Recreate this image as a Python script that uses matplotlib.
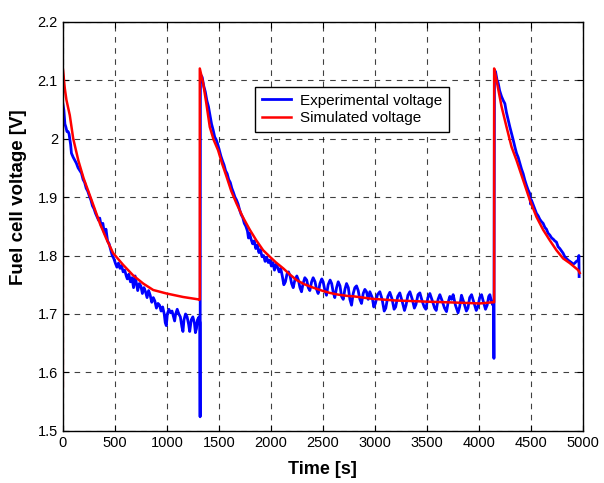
import matplotlib
matplotlib.use("Agg")
import matplotlib.pyplot as plt

# Simulated voltage (red)
sim_time = [0, 0, 19, 35, 67, 100, 150, 200, 276, 356, 420, 484, 580, 676, 773,
            869, 997, 1157, 1301, 1311, 1317,
            1317, 1349, 1380, 1413, 1450, 1493, 1530, 1574, 1620, 1670, 1730, 1798,
            1860, 1926, 1990, 2050, 2119, 2180, 2247, 2320, 2407, 2490, 2567, 2650,
            2728, 2800, 2888, 2970, 3048, 3200, 3369, 3500, 3689, 3850, 4010, 4138,
            4147,
            4147, 4170, 4218, 4266, 4314, 4362, 4426, 4490, 4554, 4618, 4682, 4746,
            4810, 4874, 4955, 4970]
sim_voltage = [1.575, 2.12, 2.086, 2.066, 2.040, 2.000, 1.962, 1.932, 1.895, 1.855,
               1.828, 1.804, 1.784, 1.766, 1.752, 1.741, 1.735, 1.729, 1.725, 1.724,
               1.725,
               2.12, 2.095, 2.060, 2.020, 1.998, 1.980, 1.958, 1.935, 1.910, 1.889,
               1.866, 1.844, 1.826, 1.809, 1.798, 1.788, 1.778, 1.768, 1.758, 1.751,
               1.745, 1.740, 1.736, 1.733, 1.731, 1.730, 1.728, 1.726, 1.725, 1.723,
               1.722, 1.721, 1.720, 1.719, 1.718, 1.720, 1.720,
               2.12, 2.100, 2.055, 2.020, 1.986, 1.963, 1.929, 1.895, 1.866, 1.844,
               1.826, 1.809, 1.795, 1.787, 1.775, 1.770]

# Experimental voltage (blue)
exp_time = [0, 10, 20, 29, 40, 51, 60, 67, 75, 83, 100, 115, 130, 147, 165, 179,
            195, 210, 225, 240, 255, 270, 285, 300, 315, 330, 345, 355, 370, 385,
            400, 415, 430, 445, 460, 475, 490, 505, 520, 535, 550, 565, 580, 595,
            610, 620, 635, 650, 665, 680, 695, 710, 720, 735, 750, 765, 780, 795,
            810, 825, 840, 855, 870, 885, 900, 915, 930, 945, 960, 975, 985, 995,
            1005, 1020, 1035, 1050, 1065, 1075, 1085, 1100, 1115, 1130, 1145, 1155,
            1165, 1180, 1195, 1210, 1220, 1235, 1250, 1265, 1275, 1285, 1295, 1310,
            1318, 1320,
            1323, 1340, 1355, 1370, 1385, 1400, 1415, 1430, 1445, 1460, 1475, 1490,
            1505, 1520, 1535, 1550, 1565, 1580, 1595, 1610, 1625, 1640, 1655, 1670,
            1685, 1700, 1715, 1730, 1745, 1760, 1775, 1785, 1795, 1810, 1825, 1840,
            1855, 1870, 1885, 1900, 1915, 1930, 1945, 1960, 1975, 1990, 2005, 2020,
            2035, 2050, 2065, 2080, 2095, 2110, 2125, 2140, 2155, 2170, 2185, 2200,
            2215, 2231, 2250, 2265, 2280, 2295, 2310, 2327, 2345, 2360, 2375, 2392,
            2407, 2425, 2440, 2455, 2472, 2490, 2503, 2520, 2535, 2551, 2570, 2585,
            2600, 2615, 2632, 2648, 2665, 2680, 2696, 2712, 2728, 2745, 2760, 2776,
            2792, 2808, 2824, 2840, 2856, 2872, 2888, 2904, 2920, 2936,
            2952, 2975, 2990, 3005, 3025, 3048, 3070, 3090, 3105, 3125,
            3144, 3165, 3185, 3200, 3220, 3240, 3262, 3285, 3300, 3318,
            3337, 3360, 3380, 3395, 3415, 3433, 3455, 3475, 3490, 3510,
            3529, 3550, 3575, 3590, 3608, 3625, 3648, 3670, 3689, 3705,
            3721, 3738, 3753, 3775, 3800, 3815, 3833, 3855, 3880, 3895, 3912,
            3930, 3952, 3975, 3990, 4008, 4026, 4045, 4064, 4080, 4095,
            4106, 4120, 4135, 4142, 4145,
            4150, 4160, 4175, 4186, 4200, 4218, 4235, 4250, 4265, 4282, 4298, 4314,
            4330, 4346, 4362, 4378, 4394, 4410, 4426, 4442, 4458, 4474, 4490, 4497,
            4505, 4520, 4537, 4554, 4570, 4586, 4602, 4618, 4635, 4650, 4666, 4682,
            4700, 4715, 4730, 4746, 4762, 4778, 4794, 4810, 4826, 4842, 4858, 4874,
            4890, 4906, 4922, 4938, 4955, 4962, 4964]
exp_voltage = [2.06, 2.049, 2.025, 2.02, 2.012, 2.012, 2.008, 2.0, 1.99, 1.975,
               1.968, 1.963, 1.958, 1.95, 1.945, 1.941, 1.93, 1.925, 1.915, 1.91,
               1.902, 1.895, 1.885, 1.88, 1.872, 1.866, 1.86, 1.864, 1.85, 1.855,
               1.838, 1.845, 1.825, 1.82, 1.81, 1.80, 1.795, 1.787, 1.78, 1.787,
               1.778, 1.783, 1.772, 1.775, 1.765, 1.76, 1.768, 1.755, 1.762, 1.745,
               1.765, 1.75, 1.74, 1.752, 1.748, 1.735, 1.745, 1.738, 1.728, 1.74,
               1.732, 1.72, 1.728, 1.722, 1.71, 1.718, 1.715, 1.705, 1.712, 1.70,
               1.685, 1.68, 1.70, 1.708, 1.702, 1.705, 1.695, 1.688, 1.70, 1.708,
               1.70, 1.695, 1.678, 1.67, 1.69, 1.70, 1.695, 1.682, 1.67, 1.69,
               1.695, 1.685, 1.668, 1.675, 1.69, 1.695, 1.685, 1.524,
               2.11, 2.105, 2.09, 2.08, 2.065, 2.055, 2.04, 2.025, 2.015, 2.003,
               1.998, 1.99, 1.98, 1.97, 1.962, 1.955, 1.945, 1.94, 1.93, 1.925,
               1.915, 1.908, 1.90, 1.895, 1.888, 1.878, 1.87, 1.865, 1.855, 1.85,
               1.842, 1.83, 1.838, 1.828, 1.82, 1.825, 1.812, 1.818, 1.805, 1.81,
               1.798, 1.80, 1.79, 1.797, 1.788, 1.792, 1.782, 1.788, 1.775, 1.785,
               1.78, 1.772, 1.778, 1.765, 1.75, 1.755, 1.768, 1.772, 1.765, 1.752,
               1.745, 1.758, 1.765, 1.758, 1.745, 1.738, 1.752, 1.762, 1.758, 1.745,
               1.74, 1.755, 1.762, 1.755, 1.742, 1.735, 1.752, 1.76, 1.755, 1.74,
               1.732, 1.75, 1.758, 1.752, 1.737, 1.728, 1.745, 1.755, 1.748, 1.73,
               1.725, 1.742, 1.752, 1.745, 1.725, 1.715, 1.735, 1.745, 1.748, 1.74,
               1.725, 1.718, 1.735, 1.742, 1.738, 1.725,
               1.738, 1.728, 1.712, 1.718, 1.733, 1.738, 1.725, 1.705, 1.71, 1.73,
               1.737, 1.726, 1.708, 1.712, 1.73, 1.736, 1.722, 1.706, 1.715, 1.732,
               1.738, 1.725, 1.71, 1.716, 1.733, 1.736, 1.722, 1.712, 1.708, 1.728,
               1.735, 1.724, 1.71, 1.706, 1.725, 1.733, 1.722, 1.71, 1.704, 1.72,
               1.73, 1.725, 1.733, 1.715, 1.702, 1.712, 1.732, 1.72, 1.705, 1.71, 1.728,
               1.733, 1.72, 1.706, 1.712, 1.728, 1.733, 1.72, 1.708, 1.715, 1.73,
               1.733, 1.722, 1.715, 1.72, 1.624,
               2.112, 2.115, 2.10, 2.095, 2.082, 2.072, 2.065, 2.06, 2.045, 2.032,
               2.02, 2.009, 1.998, 1.986, 1.975, 1.968, 1.958, 1.948, 1.94, 1.929,
               1.92, 1.912, 1.906, 1.888, 1.895, 1.888, 1.88, 1.872, 1.868, 1.862,
               1.858, 1.855, 1.848, 1.845, 1.838, 1.835, 1.83, 1.828, 1.825, 1.823,
               1.815, 1.812, 1.808, 1.804, 1.798, 1.795, 1.792, 1.79, 1.788, 1.785,
               1.787, 1.79, 1.792, 1.80, 1.764]

x_ticks = [0, 500, 1000, 1500, 2000, 2500, 3000, 3500, 4000, 4500, 5000]
y_ticks = [1.5, 1.6, 1.7, 1.8, 1.9, 2.0, 2.1, 2.2]
y_tick_labels = ['1.5', '1.6', '1.7', '1.8', '1.9', '2', '2.1', '2.2']

plt.rcParams['font.family'] = ['Liberation Sans', 'DejaVu Sans']

fig = plt.figure(figsize=(6.04, 4.83), dpi=100)
ax = fig.add_axes([0.104, 0.108, 0.861, 0.847])

ax.plot(exp_time, exp_voltage, color='#0000ff', lw=2.0, label='Experimental voltage')
ax.plot(sim_time, sim_voltage, color='#ff0000', lw=1.8, label='Simulated voltage')

ax.set_xlim(0, 5000)
ax.set_ylim(1.5, 2.2)
ax.set_xticks(x_ticks)
ax.set_yticks(y_ticks)
ax.set_yticklabels(y_tick_labels)
ax.tick_params(direction='in', length=4, labelsize=10.5, color='black')
ax.tick_params(top=True, right=True)
ax.grid(True, color='black', linestyle=(0, (5, 5)), linewidth=0.8, alpha=0.75)
for s in ax.spines.values():
    s.set_linewidth(1.0)
    s.set_color('black')

ax.set_xlabel('Time [s]', fontsize=13, fontweight='bold')
ax.xaxis.set_label_coords(0.5, -0.074)
ax.set_ylabel('Fuel cell voltage [V]', fontsize=13.5, fontweight='bold')
ax.yaxis.set_label_coords(-0.069, 0.57)

leg = ax.legend(loc='upper left', bbox_to_anchor=(0.369, 0.841), borderaxespad=0,
                fontsize=11, handlelength=1.9, handletextpad=0.6, fancybox=False,
                framealpha=1, edgecolor='black', borderpad=0.45, labelspacing=0.25)
leg.get_frame().set_linewidth(1.0)

fig.savefig('out.png', dpi=100)
